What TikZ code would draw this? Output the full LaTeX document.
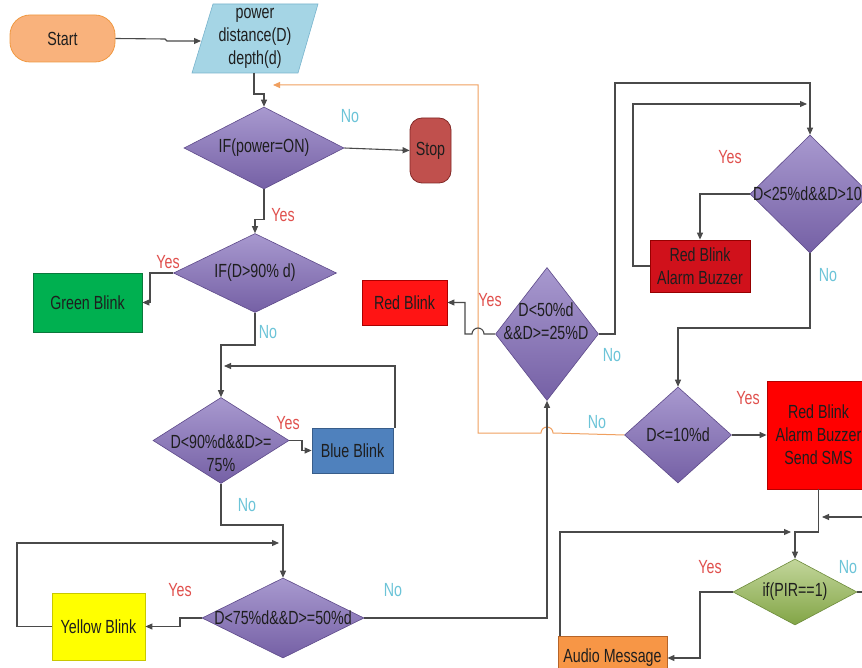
\documentclass[tikz,border=0pt]{standalone}
\usepackage{fontspec}
\setmainfont{Liberation Sans}[FakeStretch=0.75]
\usetikzlibrary{shapes.geometric,arrows.meta}
\definecolor{lc}{HTML}{4A4A4A}
\definecolor{orl}{HTML}{F0A060}
\definecolor{yescol}{HTML}{E0504D}
\definecolor{nocol}{HTML}{6CC4D8}
\definecolor{txtc}{HTML}{1E1E1E}
\definecolor{diatop}{HTML}{A899CF}
\definecolor{diabot}{HTML}{7560A5}
\definecolor{diadraw}{HTML}{5E4A8A}
\tikzset{
  base/.style={font=\fontsize{19}{23}\selectfont, text=txtc},
  box/.style={base, draw, line width=0.8pt, inner sep=0pt, align=center},
  dia/.style={diamond, draw=diadraw, line width=0.6pt, top color=diatop, bottom color=diabot, inner sep=0pt},
  lab/.style={base, inner sep=0pt, align=center},
  conn/.style={draw=lc, line width=1.1pt, -{Triangle[length=7pt,width=6pt]}},
  oconn/.style={draw=orl, line width=1pt, -{Triangle[length=7pt,width=6pt]}},
  yeslab/.style={base, text=yescol, inner sep=0pt},
  nolab/.style={base, text=nocol, inner sep=0pt},
}
\begin{document}
\begin{tikzpicture}[x=1pt,y=-1pt]
\useasboundingbox (0,0) rectangle (862,668);
\clip (0,0) rectangle (862,668);
\fill[white] (0,0) rectangle (862,668);

% nodes
\node[box, draw=orange!70!brown!80, fill={rgb,255:red,249;green,178;blue,124}, rounded corners=20pt, minimum width=105pt, minimum height=47pt] (start) at (62.5,38.5) {Start};
\fill[fill={rgb,255:red,165;green,213;blue,229}, draw={rgb,255:red,120;green,180;blue,205}, line width=0.6pt] (213,4) -- (318,4) -- (298,73) -- (192,73) -- cycle;
\node[lab] (para) at (255,38) {power\\distance(D)\\depth(d)};
\coordinate (pin) at (201,41);
\coordinate (pout) at (254,73);
\coordinate (orin) at (273,85);

\node[dia, minimum width=160pt, minimum height=82pt] (pw) at (264,148) {};
\node[lab] (pwt) at (pw) {IF(power=ON)};
\node[box, draw={rgb,255:red,130;green,40;blue,38}, fill={rgb,255:red,192;green,80;blue,77}, rounded corners=12pt, minimum width=41pt, minimum height=65pt] (stop) at (430.5,150.5) {Stop};

\node[dia, minimum width=163pt, minimum height=79pt] (ifd) at (255,273) {};
\node[lab] (ifdt) at (ifd) {IF(D>90\% d)};
\node[box, draw={rgb,255:red,10;green,120;blue,60}, fill={rgb,255:red,0;green,176;blue,80}, minimum width=109pt, minimum height=59pt] (green) at (87.5,302.5) {Green Blink};

\node[dia, minimum width=136pt, minimum height=86pt] (d90) at (221,440.5) {};
\node[lab] (d90t) at (221,453) {D<90\%d\&\&D>=\\75\%};
\node[box, draw={rgb,255:red,56;green,93;blue,138}, fill={rgb,255:red,79;green,129;blue,189}, minimum width=81pt, minimum height=45pt] (blue) at (352.5,450.5) {Blue Blink};

\node[dia, minimum width=162pt, minimum height=80pt] (d75) at (283,618) {};
\node[lab] (d75t) at (d75) {D<75\%d\&\&D>=50\%d};
\node[box, draw={rgb,255:red,200;green,200;blue,0}, fill={rgb,255:red,255;green,255;blue,0}, minimum width=93pt, minimum height=67pt] (yellow) at (98.5,626.5) {Yellow Blink};

\node[box, draw={rgb,255:red,170;green,0;blue,0}, fill={rgb,255:red,255;green,20;blue,20}, minimum width=85pt, minimum height=45pt] (redb) at (404.5,302.5) {Red Blink};

\node[dia, minimum width=103pt, minimum height=133pt] (d50) at (547,334) {};
\node[lab] (d50t) at (546,321) {D<50\%d\\\&\&D>=25\%D};

\node[dia, minimum width=120pt, minimum height=118pt] (d25) at (810,194) {};
\node[lab, anchor=west] (d25t) at (753,194) {D<25\%d\&\&D>10};
\node[box, draw={rgb,255:red,150;green,0;blue,0}, fill={rgb,255:red,208;green,17;blue,27}, minimum width=100pt, minimum height=52pt] (rbab) at (700,266) {Red Blink\\Alarm Buzzer};

\node[dia, minimum width=107pt, minimum height=96pt] (d10) at (678,435) {};
\node[lab] (d10t) at (d10) {D<=10\%d};
\node[box, draw={rgb,255:red,180;green,0;blue,0}, fill={rgb,255:red,255;green,0;blue,0}, minimum width=103pt, minimum height=108pt] (sms) at (818.5,435) {Red Blink\\Alarm Buzzer\\Send SMS};

\node[diamond, draw={rgb,255:red,110;green,140;blue,60}, line width=0.6pt, top color={rgb,255:red,195;green,214;blue,155}, bottom color={rgb,255:red,130;green,165;blue,70}, inner sep=0pt, minimum width=124pt, minimum height=66pt] (pir) at (795,592) {};
\node[lab] (pirt) at (pir) {if(PIR==1)};
\node[box, draw={rgb,255:red,182;green,100;blue,40}, fill={rgb,255:red,247;green,150;blue,70}, minimum width=109pt, minimum height=44pt] (audio) at (612.5,658) {Audio Message};

% connectors
\draw[conn] (start.east) -- (165,39) -- (167,41) -- (pin);
\draw[conn] (pout) -- (254,94) -| (pw.north);
\draw[conn] (pw.east) -- (stop.west);
\draw[oconn] (d10.west) -- (553,433) arc (0:180:6pt) -- (478,433) -- (478,85) -- (orin);
\draw[conn] (pw.south) -- ++(0,30) -| (ifd.north);
\draw[conn] (ifd.west) -- (150,273) |- (green.east);
\draw[conn] (ifd.south) -- (255,345) -| (d90.north);
\draw[conn] (d90.east) -- (302,440.5) |- (blue.west);
\coordinate (bl) at (395,428);
\coordinate (blin) at (224,366);
\draw[conn] (bl) |- (blin);
\draw[conn] (d90.south) -- (221,525) -| (d75.north);
\coordinate (ylin) at (279,543);
\draw[conn] (yellow.west) -- (17,626.5) |- (ylin);
\draw[conn] (d75.west) -- (180,618) |- (yellow.east);
\draw[conn] (d75.east) -| (d50.south);
\draw[conn] (d50.west) -- (484,334) arc (0:180:6pt) -- (465,334) |- (redb.east);
\draw[conn] (d50.east) -- (615,334) -- (615,83) -| (d25.north);
\coordinate (rbin) at (807,104);
\draw[conn] (rbab.west) -- (633,266) |- (rbin);
\draw[conn] (d25.west) -| (rbab.north);
\draw[conn] (d25.south) -- (810,328) -| (d10.north);
\draw[conn] (d10.east) -- (sms.west);
\draw[conn] (sms.south) -- (818.5,532) -| (pir.north);
\coordinate (pirin) at (822,517);
\draw[conn] (pir.east) -- (875,592) |- (pirin);
\draw[conn] (pir.west) -- (700,592) |- (audio.east);
\coordinate (aul) at (560,636);
\coordinate (auin) at (791,532);
\draw[conn] (aul) |- (auin);

% labels
\node[nolab] (l1) at (350,116) {No};
\node[yeslab] (l2) at (283,215) {Yes};
\node[yeslab] (l3) at (168,262) {Yes};
\node[nolab] (l4) at (268,332) {No};
\node[yeslab] (l5) at (288,423) {Yes};
\node[nolab] (l6) at (247,505) {No};
\node[yeslab] (l7) at (180,590) {Yes};
\node[nolab] (l8) at (393,590) {No};
\node[yeslab] (l9) at (490,300) {Yes};
\node[nolab] (l10) at (612,355) {No};
\node[yeslab] (l11) at (730,157) {Yes};
\node[nolab] (l12) at (828,275) {No};
\node[nolab] (l13) at (597,422) {No};
\node[yeslab] (l14) at (748,398) {Yes};
\node[yeslab] (l15) at (710,567) {Yes};
\node[nolab] (l16) at (848,567) {No};
\end{tikzpicture}
\end{document}
